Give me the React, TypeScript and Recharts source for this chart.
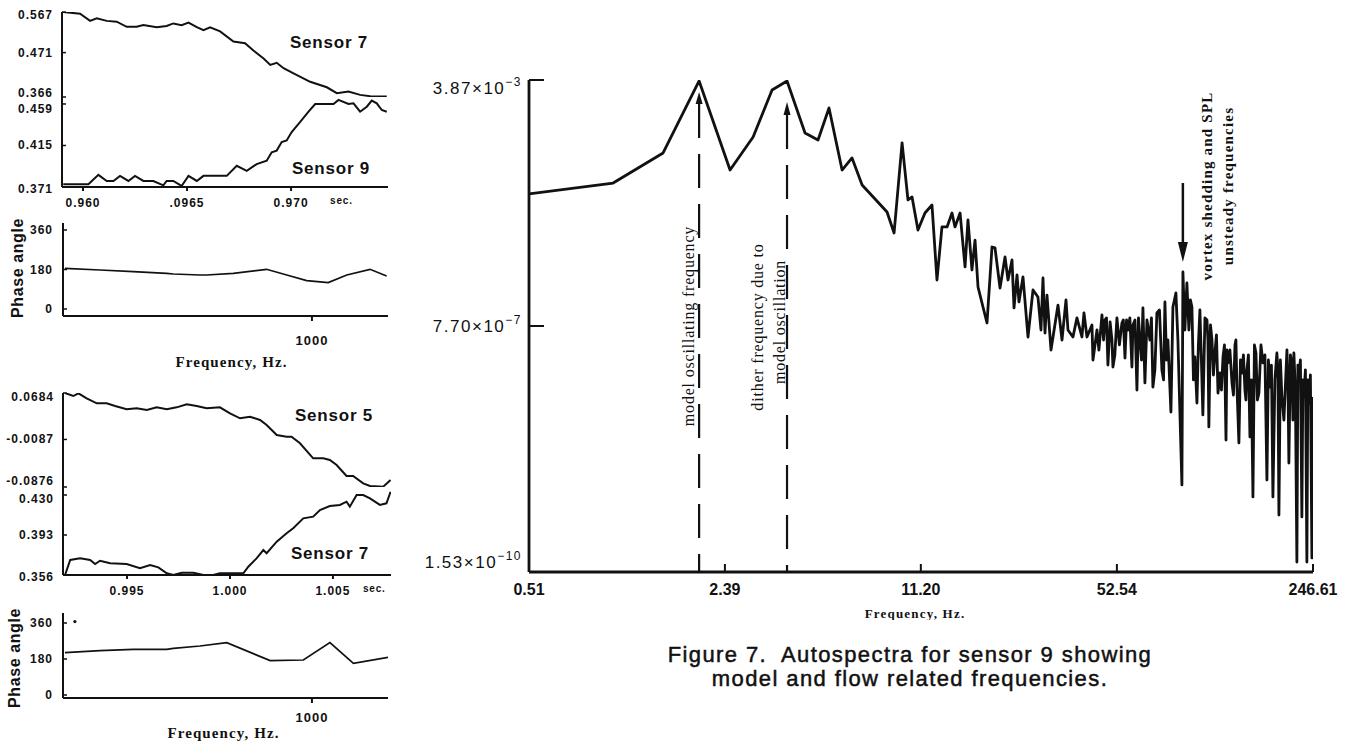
import React from 'react';
import { LineChart, Line, XAxis, YAxis, ReferenceLine, ReferenceDot } from 'recharts';

const SANS = '"Liberation Sans", Arial, Helvetica, sans-serif';
const SERIF = '"Liberation Serif", "Times New Roman", serif';
const INK = '#111';

// ---------------- Main autospectrum (sensor 9) ----------------
const SPEC_FREQ = [
  0.51, 0.99, 1.468, 1.95, 2.489, 2.985, 3.466, 3.9, 4.495, 4.98,
  5.43, 6.02, 6.51, 7.05, 8.58, 9.07, 9.66, 10.12, 10.45, 10.95,
  11.57, 12.23, 12.72, 13.23, 13.77, 14.32, 14.66, 15.26, 15.87, 16.24,
  16.76, 17.17, 17.58, 18.87, 19.63, 20.1, 20.91, 21.75, 22.27, 22.98,
  23.35, 23.91, 24.28, 25.06, 26.07, 27.12, 28.2, 28.88, 29.34, 29.81,
  30.28, 31.25, 33.03, 34.09, 35.18, 35.73, 37.16, 38.35, 39.89, 40.53,
  41.5, 43.17, 43.51, 44.91, 46.71, 47.82, 48.96, 50.53, 50.93, 52.56,
  54.67, 56.0, 57.33, 59.16, 59.63, 61.54, 63.01, 64.52, 65.54, 68.17,
  69.8, 72.03, 74.93, 76.74, 78.57, 80.45, 81.73, 83.68, 85.01, 87.74,
  88.43, 91.25, 92.7, 94.93, 97.2, 98.77, 101.1, 103.5, 106.9, 108.5,
  111.2, 113.8, 116.6, 118.4, 121.3, 124.2, 126.1, 130.2, 133.3, 135.4,
  137.5, 140.8, 144.2, 146.5, 150.0, 153.6, 157.3, 161.0, 166.2, 171.5,
  175.6, 179.8, 185.5, 188.5, 193.0, 200.8, 203.9, 208.8, 212.1, 217.2,
  220.6, 225.9, 229.5, 235.0, 238.8, 244.5, 246.6,
];
const SPEC_PSD = [
  7.46e-5, 1.09e-4, 3.09e-4, 3.74e-3, 1.71e-4, 5.38e-4, 2.74e-3, 3.74e-3, 6.17e-4, 4.84e-4,
  1.47e-3, 1.71e-4, 2.6e-4, 1.02e-4, 4.0e-5, 1.93e-5, 4.37e-4, 6.06e-5, 6.72e-5, 2.14e-5,
  3.86e-5, 5.09e-5, 3.79e-6, 2.38e-5, 2.38e-5, 3.86e-5, 2.38e-5, 3.86e-5, 5.95e-6, 3.03e-5,
  5.36e-6, 1.51e-5, 2.97e-6, 8.54e-7, 1.19e-5, 1.15e-5, 2.87e-6, 8.41e-6, 3.79e-6, 7.58e-6,
  1.44e-6, 4.51e-6, 1.77e-6, 4.21e-6, 5.26e-7, 2.68e-6, 2.1e-6, 6.7e-7, 4.06e-6, 6.04e-7,
  2.25e-6, 3.35e-7, 1.59e-6, 4.74e-7, 1.9e-6, 6.7e-7, 5.26e-7, 1.02e-6, 5.26e-7, 1.21e-6,
  5.26e-7, 7.97e-7, 2.37e-7, 6.7e-7, 1.13e-6, 9.48e-7, 1.99e-7, 4.74e-7, 1.86e-7, 1.02e-6,
  8.54e-7, 2.54e-7, 6.7e-7, 1.86e-7, 7.97e-7, 8.38e-8, 4.74e-7, 1.44e-6, 1.07e-7, 4.74e-7,
  9.3e-8, 1.21e-6, 1.68e-7, 1.77e-6, 4.74e-7, 3.91e-8, 1.49e-6, 2.42e-6, 4.74e-7, 3.12e-9,
  5.0e-6, 3.42e-6, 6.7e-7, 1.49e-6, 2.63e-7, 5.34e-8, 1.34e-6, 3.53e-8, 9.48e-7, 2.33e-8,
  4.74e-7, 3.02e-7, 7.55e-8, 1.51e-7, 2.63e-7, 1.48e-8, 2.14e-7, 1.07e-7, 3.99e-7, 9.3e-8,
  1.34e-8, 1.51e-7, 8.38e-8, 1.68e-7, 1.65e-8, 2.06e-9, 3.02e-7, 7.55e-8, 2.14e-7, 3.71e-9,
  9.3e-8, 2.06e-9, 3.02e-7, 1.1e-9, 6.58e-8, 3.35e-7, 6.68e-9, 2.14e-7, 3.02e-7, 2.16e-10,
  1.32e-7, 1.03e-9, 6.58e-8, 2.16e-10, 5.34e-8, 2.49e-10, 6.58e-8,
];
// finer wiggles read inside the dense high-frequency band
const BAND_FREQ = [
  45.6, 47.3, 48.4, 49.8, 51.7, 53.6, 55.3, 56.7, 58.2, 60.6,
  62.3, 63.8, 66.6, 69.0, 70.9, 73.5, 75.9, 77.7, 89.8, 93.8,
  96.1, 99.9, 102.3, 105.2, 107.7, 109.9, 112.5, 115.2, 119.8, 122.7,
  125.1, 128.1, 131.7, 134.3, 139.2, 142.5, 145.3, 148.2, 151.7, 155.4,
  159.1, 163.6, 168.8, 173.5, 177.7, 182.6, 187.0, 190.7, 196.1, 202.4,
  206.4, 210.5, 214.6, 218.9, 223.3, 227.7, 232.3, 236.8, 241.6,
];
const BAND_PSD = [
  3.35e-7, 4.74e-7, 1.02e-6, 8.84e-7, 2.82e-7, 3.99e-7, 9.48e-7, 9.48e-7, 1.02e-6, 9.48e-7,
  1.02e-6, 2.37e-7, 9.48e-7, 1.02e-6, 1.68e-7, 1.34e-6, 1.19e-7, 2.37e-7, 6.7e-7, 1.9e-6,
  1.19e-7, 3.99e-7, 2.37e-7, 1.02e-6, 4.74e-7, 7.97e-7, 1.41e-7, 5.64e-7, 8.38e-8, 3.99e-7,
  3.35e-7, 3.35e-7, 7.05e-8, 4.74e-7, 2.37e-7, 2.82e-7, 5.93e-8, 2.82e-7, 1.19e-7, 3.99e-7,
  5.93e-8, 3.99e-7, 2.82e-7, 2.37e-7, 1.99e-7, 1.19e-7, 1.68e-7, 2.37e-7, 2.96e-8, 1.19e-7,
  2.82e-7, 2.96e-8, 8.38e-8, 1.99e-7, 2.37e-7, 1.19e-7, 1.68e-7, 1.19e-7, 1.41e-7,
];
const MAIN_X_DOMAIN: [number, number] = [0.51, 246.61];
const MAIN_Y_DOMAIN: [number, number] = [1.53e-10, 3.87e-3];
const MAIN_X_TICKS = [0.51, 2.39, 11.2, 52.54, 246.61];
const MAIN_X_LABELS = ['0.51', '2.39', '11.20', '52.54', '246.61'];
const MAIN_X_INNER = [2.39, 11.2, 52.54];
const MAIN_Y_TICKS = [1.53e-10, 7.7e-7, 3.87e-3];
const MAIN_Y_MANT = ['1.53', '7.70', '3.87'];
const MAIN_Y_EXP = ['\u221210', '\u22127', '\u22123'];

const MODEL_FREQ = 1.95;
const DITHER_FREQ = 3.9;
const VORTEX_FREQ = 88.4;

// ---------------- Left panels ----------------
// Panel A: Sensor 7 (upper) & Sensor 9 (lower), time in sec
const A_X_DOMAIN: [number, number] = [0.95899, 0.97466];
const A_X_TICKS = [0.96, 0.965, 0.97];
const A_X_LABELS = ['0.960', '.0965', '0.970'];
const S7A_T = [0.95905, 0.95986, 0.96034, 0.96066, 0.96114, 0.96162, 0.9621, 0.96258, 0.9629, 0.96354, 0.96402, 0.96434, 0.96474, 0.96507, 0.96547, 0.96579, 0.96611, 0.96659, 0.96723, 0.96779, 0.96819, 0.96868, 0.969, 0.96931, 0.96964, 0.97012, 0.97092, 0.97172, 0.9722, 0.97276, 0.97332, 0.9738, 0.9746];
const S7A_V = [0.567, 0.563, 0.546, 0.552, 0.546, 0.544, 0.532, 0.532, 0.536, 0.531, 0.534, 0.54, 0.536, 0.542, 0.531, 0.524, 0.531, 0.521, 0.497, 0.493, 0.476, 0.457, 0.442, 0.447, 0.434, 0.422, 0.402, 0.389, 0.375, 0.379, 0.371, 0.368, 0.367];
const S7A_Y_DOMAIN: [number, number] = [0.366, 0.567];
const S7A_Y_TICKS = [0.366, 0.471, 0.567];
const S7A_Y_LABELS = ['0.366', '0.471', '0.567'];
const S9A_T = [0.95905, 0.96026, 0.96074, 0.96114, 0.96146, 0.96178, 0.96218, 0.9625, 0.9629, 0.96338, 0.96386, 0.96402, 0.96434, 0.96474, 0.96507, 0.96547, 0.96579, 0.96691, 0.96739, 0.96787, 0.96835, 0.96883, 0.96907, 0.96931, 0.96955, 0.96979, 0.97003, 0.97044, 0.97084, 0.97116, 0.97204, 0.97228, 0.97276, 0.973, 0.97332, 0.97364, 0.97388, 0.97412, 0.97436, 0.9746];
const S9A_V = [0.3739, 0.3739, 0.3839, 0.3774, 0.3774, 0.3828, 0.3774, 0.3828, 0.3774, 0.3774, 0.3728, 0.3774, 0.3774, 0.3721, 0.3828, 0.3774, 0.3828, 0.3828, 0.3935, 0.3882, 0.3953, 0.3989, 0.4078, 0.4096, 0.4186, 0.4204, 0.4293, 0.44, 0.4508, 0.459, 0.459, 0.4633, 0.459, 0.4597, 0.4508, 0.4561, 0.4626, 0.4597, 0.4526, 0.4508];
const S9A_Y_DOMAIN: [number, number] = [0.371, 0.4664];
const S9A_Y_TICKS = [0.371, 0.415, 0.459];
const S9A_Y_LABELS = ['0.371', '0.415', '0.459'];

// Panel B: phase angle vs frequency
const PHASE_X_DOMAIN: [number, number] = [100, 1275];
const PHASE_X_TICKS = [1000];
const PHASE_Y_TICKS = [0, 180, 360];
const PHASE_Y_LABELS = ['0', '180', '360'];
const PB_F = [107, 234, 354, 475, 499, 595, 619, 716, 836, 909, 981, 1059, 1126, 1210, 1270];
const PB_P = [185.5, 177.8, 170, 162.6, 159.5, 155, 155, 162.6, 180.9, 155, 129, 120, 155, 180.9, 150];
const PB_Y_DOMAIN: [number, number] = [-32, 392];

// Panel C: Sensor 5 (upper) & Sensor 7 (lower)
const C_X_DOMAIN: [number, number] = [0.99189, 1.00782];
const C_X_TICKS = [0.995, 1.0, 1.005];
const C_X_LABELS = ['0.995', '1.000', '1.005'];
const S5C_T = [0.99199, 0.99239, 0.99264, 0.99304, 0.99353, 0.99401, 0.99442, 0.99498, 0.99547, 0.99596, 0.99644, 0.99693, 0.99741, 0.9979, 0.99838, 0.99887, 0.99951, 1.0, 1.00049, 1.00097, 1.00146, 1.00178, 1.00227, 1.00275, 1.00299, 1.0034, 1.00404, 1.00453, 1.00485, 1.00518, 1.00566, 1.00598, 1.00647, 1.0068, 1.00744, 1.0078];
const S5C_V = [0.0684, 0.0634, 0.0679, 0.0596, 0.0513, 0.0513, 0.0468, 0.0413, 0.043, 0.0402, 0.0446, 0.0413, 0.0446, 0.0496, 0.0468, 0.043, 0.0446, 0.0347, 0.0264, 0.0291, 0.0236, 0.0153, -0.0013, -0.0041, -0.0041, -0.0151, -0.04, -0.04, -0.0428, -0.0511, -0.0694, -0.0694, -0.0815, -0.086, -0.0871, -0.076];
const S5C_Y_DOMAIN: [number, number] = [-0.0876, 0.0684];
const S5C_Y_TICKS = [-0.0876, -0.0087, 0.0684];
const S5C_Y_LABELS = ['-0.0876', '-0.0087', '0.0684'];
const S7C_T = [0.99199, 0.99224, 0.99272, 0.99321, 0.99345, 0.99369, 0.99418, 0.99498, 0.99563, 0.99612, 0.99652, 0.99693, 0.99725, 0.99766, 0.99822, 0.99871, 0.99919, 0.99951, 1.00065, 1.00089, 1.00129, 1.00162, 1.00178, 1.00227, 1.00275, 1.00307, 1.00356, 1.00404, 1.00437, 1.00485, 1.00534, 1.00566, 1.00582, 1.00615, 1.00647, 1.0068, 1.00728, 1.0076, 1.0078];
const S7C_V = [0.356, 0.3699, 0.3714, 0.3699, 0.3662, 0.3692, 0.3668, 0.3662, 0.3622, 0.3653, 0.3631, 0.3576, 0.356, 0.3581, 0.3581, 0.356, 0.356, 0.3576, 0.3576, 0.3637, 0.3714, 0.3791, 0.3761, 0.3868, 0.3946, 0.3992, 0.4084, 0.41, 0.4161, 0.4198, 0.4208, 0.4238, 0.4192, 0.43, 0.43, 0.4269, 0.4208, 0.4223, 0.433];
const S7C_Y_DOMAIN: [number, number] = [0.356, 0.4374];
const S7C_Y_TICKS = [0.356, 0.393, 0.43];
const S7C_Y_LABELS = ['0.356', '0.393', '0.430'];

// Panel D: phase angle vs frequency
const PD_F = [107, 234, 354, 475, 499, 595, 692, 849, 969, 1065, 1150, 1275];
const PD_P = [211.7, 221.7, 228.3, 228.3, 233.3, 245, 261.7, 171.7, 175, 261.7, 158.3, 188.3];
const PD_Y_DOMAIN: [number, number] = [-15, 410];
const PD_OUTLIER_F = 143;
const PD_OUTLIER_P = 367;

// ---------------- helpers ----------------
const zip = (xs: number[], ys: number[], kx: string, ky: string) =>
  xs.map((x, i) => ({ [kx]: x, [ky]: ys[i] }));

function nearestIdx(ticks: number[], v: number, log = false) {
  let best = 0;
  const d = (a: number) => (log ? Math.abs(Math.log(a) - Math.log(v)) : Math.abs(a - v));
  for (let i = 1; i < ticks.length; i++) if (d(ticks[i]) < d(ticks[best])) best = i;
  return best;
}

const smallFont = { fontFamily: SANS, fontWeight: 700, fill: INK } as const;

const ySmallTick = (ticks: number[], labels: string[], shifts: number[] = []) => (p: any) => {
  const i = nearestIdx(ticks, p.payload.value);
  return (
    <text x={p.x} y={p.y + (shifts[i] || 0)} dy={4} textAnchor="end" fontSize={12} letterSpacing={1} {...smallFont}>
      {labels[i]}
    </text>
  );
};

const xSmallTick = (ticks: number[], labels: string[], unitDx?: number, fs = 12) => (p: any) => {
  const i = nearestIdx(ticks, p.payload.value);
  return (
    <g>
      <text x={p.x} y={p.y} dy={9} textAnchor="middle" fontSize={fs} letterSpacing={1} {...smallFont}>
        {labels[i]}
      </text>
      {unitDx !== undefined && i === ticks.length - 1 ? (
        <text x={p.x + unitDx} y={p.y} dy={6} textAnchor="start" fontSize={10} letterSpacing={0.8} {...smallFont}>
          sec.
        </text>
      ) : null}
    </g>
  );
};

type PartProps = {
  top: number;
  height: number;
  margin: { top: number; right: number; bottom: number; left: number };
  data: any[];
  xd: [number, number];
  xt: number[];
  yd: [number, number];
  yt: number[];
  yl: string[];
  ys: number[];
  yWidth: number;
  lower: boolean;
  xl?: string[];
  unitDx?: number;
  bottomHeight?: number;
  tickMargin?: number;
};

function TimePart(props: PartProps) {
  const { top, height, margin, data, xd, xt, yd, yt, yl, ys, yWidth, lower, xl, unitDx, bottomHeight, tickMargin } = props;
  return (
    <div style={{ position: 'absolute', left: 0, top }}>
      <LineChart width={400} height={height} data={data} margin={margin}>
        <XAxis
          dataKey="t"
          type="number"
          domain={xd}
          allowDataOverflow
          ticks={xt}
          interval={0}
          height={lower ? bottomHeight : 0}
          tickSize={lower ? 4 : -5}
          tickMargin={lower ? tickMargin : 0}
          tick={lower ? xSmallTick(xt, xl || [], unitDx) : false}
          axisLine={{ stroke: INK, strokeWidth: lower ? 2 : 3 }}
          tickLine={{ stroke: INK, strokeWidth: 2 }}
        />
        <XAxis
          xAxisId="top"
          orientation="top"
          type="number"
          domain={xd}
          allowDataOverflow
          ticks={xt}
          interval={0}
          height={0}
          tickSize={-5}
          tick={false}
          tickLine={lower ? { stroke: INK, strokeWidth: 2 } : false}
          axisLine={{ stroke: INK, strokeWidth: lower ? 3 : 2 }}
        />
        <YAxis
          type="number"
          domain={yd}
          allowDataOverflow
          ticks={yt}
          interval={0}
          width={yWidth}
          tickSize={-4}
          tickMargin={13}
          tick={ySmallTick(yt, yl, ys)}
          axisLine={{ stroke: INK, strokeWidth: 2 }}
          tickLine={{ stroke: INK, strokeWidth: 1.5 }}
        />
        <YAxis
          yAxisId="r"
          orientation="right"
          type="number"
          domain={[0, 1]}
          width={0}
          tick={false}
          tickLine={false}
          axisLine={{ stroke: INK, strokeWidth: 2 }}
        />
        <Line type="linear" dataKey="v" stroke={INK} strokeWidth={2} dot={false} isAnimationActive={false} />
      </LineChart>
    </div>
  );
}

type PhaseProps = {
  top: number;
  height: number;
  bottomHeight: number;
  data: any[];
  yd: [number, number];
  tickMargin: number;
  labelOffset: number;
  labelDx: number;
  outlier?: { f: number; p: number };
};

function PhasePart(props: PhaseProps) {
  const { top, height, bottomHeight, data, yd, tickMargin, labelOffset, labelDx, outlier } = props;
  return (
    <div style={{ position: 'absolute', left: 0, top }}>
      <LineChart width={400} height={height} data={data} margin={{ top: 23, right: 12, bottom: 0, left: 0 }}>
        <XAxis
          dataKey="f"
          type="number"
          domain={PHASE_X_DOMAIN}
          allowDataOverflow
          ticks={PHASE_X_TICKS}
          interval={0}
          height={bottomHeight}
          tickSize={5}
          tickMargin={tickMargin}
          tick={xSmallTick(PHASE_X_TICKS, ['1000'], undefined, 13)}
          axisLine={{ stroke: INK, strokeWidth: 2 }}
          tickLine={{ stroke: INK, strokeWidth: 2 }}
          label={{
            value: 'Frequency, Hz.',
            position: 'insideBottom',
            offset: labelOffset,
            dx: labelDx,
            fontFamily: SERIF,
            fontWeight: 700,
            fontSize: 15,
            letterSpacing: 1.1,
            fill: INK,
          }}
        />
        <XAxis xAxisId="top" orientation="top" type="number" domain={[0, 1]} height={0} tick={false} tickLine={false} axisLine={{ stroke: INK, strokeWidth: 2 }} />
        <YAxis
          type="number"
          domain={yd}
          allowDataOverflow
          ticks={PHASE_Y_TICKS}
          interval={0}
          width={63}
          tickSize={-4}
          tickMargin={14}
          tick={ySmallTick(PHASE_Y_TICKS, PHASE_Y_LABELS)}
          axisLine={{ stroke: INK, strokeWidth: 2 }}
          tickLine={{ stroke: INK, strokeWidth: 1.5 }}
        />
        <YAxis yAxisId="r" orientation="right" type="number" domain={[0, 1]} width={0} tick={false} tickLine={false} axisLine={{ stroke: INK, strokeWidth: 2 }} />
        <Line type="linear" dataKey="p" stroke={INK} strokeWidth={1.7} dot={false} isAnimationActive={false} />
        {outlier ? <ReferenceDot x={outlier.f} y={outlier.p} r={1.6} fill={INK} stroke="none" ifOverflow="visible" /> : null}
      </LineChart>
    </div>
  );
}

// ---------------- main chart pieces ----------------
const mainXTick = (p: any) => {
  const i = nearestIdx(MAIN_X_TICKS, p.payload.value, true);
  return (
    <text x={p.x} y={p.y} dy={12} textAnchor="middle" fontFamily={SANS} fontWeight={700} fontSize={16} fill={INK}>
      {MAIN_X_LABELS[i]}
    </text>
  );
};

const mainYTick = (p: any) => {
  const i = nearestIdx(MAIN_Y_TICKS, p.payload.value, true);
  const shift = i === 2 ? 8 : i === 0 ? -10 : 0;
  return (
    <text x={p.x} y={p.y + shift} dy={6} textAnchor="end" fontFamily={SANS} fontSize={17} letterSpacing={1.5} fill={INK}>
      {MAIN_Y_MANT[i]}
      {'\u00D7'}10
      <tspan dy={-8} fontSize={12}>
        {MAIN_Y_EXP[i]}
      </tspan>
    </text>
  );
};

const vText = (text: string, font: Record<string, any>) => (p: any) => (
  <text
    x={p.cx}
    y={p.cy}
    transform={`rotate(-90 ${p.cx} ${p.cy})`}
    textAnchor="middle"
    dominantBaseline="central"
    fill={INK}
    {...font}
  >
    {text}
  </text>
);

const arrowUp = (w: number, h: number) => (p: any) => (
  <path d={`M${p.cx},${p.cy} L${p.cx - w / 2},${p.cy + h} L${p.cx + w / 2},${p.cy + h} Z`} fill={INK} />
);
const arrowDown = (w: number, h: number) => (p: any) => (
  <path d={`M${p.cx},${p.cy} L${p.cx - w / 2},${p.cy - h} L${p.cx + w / 2},${p.cy - h} Z`} fill={INK} />
);

const annSerif = { fontFamily: SERIF, fontSize: 16, letterSpacing: 0.8 };
const annBold = { fontFamily: SERIF, fontSize: 15, fontWeight: 700, letterSpacing: 1.2 };

function MainChart() {
  const data = [...zip(SPEC_FREQ, SPEC_PSD, 'f', 'psd'), ...zip(BAND_FREQ, BAND_PSD, 'f', 'psd')].sort(
    (a: any, b: any) => a.f - b.f,
  );
  const axisLine = { stroke: INK, strokeWidth: 2.8 };
  const tickLine = { stroke: INK, strokeWidth: 2 };
  return (
    <div style={{ position: 'absolute', left: 420, top: 40 }}>
      <LineChart width={920} height={580} data={data} margin={{ top: 40, right: 27, bottom: 18, left: 0 }}>
        <XAxis
          dataKey="f"
          type="number"
          scale="log"
          domain={MAIN_X_DOMAIN}
          allowDataOverflow
          ticks={MAIN_X_TICKS}
          interval={0}
          height={30}
          tickSize={-8}
          tickMargin={19}
          tick={mainXTick}
          axisLine={axisLine}
          tickLine={tickLine}
          label={{
            value: 'Frequency, Hz.',
            position: 'bottom',
            offset: 7,
            dx: -6,
            fontFamily: SERIF,
            fontWeight: 700,
            fontSize: 13,
            letterSpacing: 1.2,
            fill: INK,
          }}
        />
        <XAxis
          xAxisId="top"
          orientation="top"
          type="number"
          scale="log"
          domain={MAIN_X_DOMAIN}
          allowDataOverflow
          ticks={MAIN_X_INNER}
          interval={0}
          height={0}
          tickSize={-8}
          tick={false}
          axisLine={axisLine}
          tickLine={tickLine}
          label={{ value: 'Sensor 9', position: 'top', offset: 3, dx: -7, fontFamily: SANS, fontSize: 16, fill: INK }}
        />
        <YAxis
          type="number"
          scale="log"
          domain={MAIN_Y_DOMAIN}
          allowDataOverflow
          ticks={MAIN_Y_TICKS}
          interval={0}
          width={109}
          tickSize={-15}
          tickMargin={22}
          tick={mainYTick}
          axisLine={axisLine}
          tickLine={tickLine}
        />
        <YAxis
          yAxisId="right"
          orientation="right"
          type="number"
          scale="log"
          domain={MAIN_Y_DOMAIN}
          allowDataOverflow
          ticks={MAIN_Y_TICKS}
          interval={0}
          width={0}
          tickSize={-15}
          tick={false}
          axisLine={axisLine}
          tickLine={tickLine}
        />
        <ReferenceLine
          segment={[{ x: MODEL_FREQ, y: 1.69e-3 }, { x: MODEL_FREQ, y: 1.53e-10 }]}
          stroke={INK}
          strokeWidth={2.2}
          strokeDasharray="34 16"
          ifOverflow="visible"
        />
        <ReferenceLine
          segment={[{ x: DITHER_FREQ, y: 1.15e-3 }, { x: DITHER_FREQ, y: 1.53e-10 }]}
          stroke={INK}
          strokeWidth={2.2}
          strokeDasharray="34 16"
          ifOverflow="visible"
        />
        <ReferenceLine
          segment={[{ x: VORTEX_FREQ, y: 1.09e-4 }, { x: VORTEX_FREQ, y: 1.41e-5 }]}
          stroke={INK}
          strokeWidth={2.5}
          ifOverflow="visible"
        />
        <ReferenceDot x={MODEL_FREQ} y={2.55e-3} r={3} ifOverflow="visible" shape={arrowUp(7, 12)} />
        <ReferenceDot x={DITHER_FREQ} y={1.81e-3} r={3} ifOverflow="visible" shape={arrowUp(7, 13)} />
        <ReferenceDot x={VORTEX_FREQ} y={7.07e-6} r={3} ifOverflow="visible" shape={arrowDown(10, 20)} />
        <ReferenceDot x={1.79} y={7.69e-7} r={1} ifOverflow="visible" shape={vText('model oscillating frequency', annSerif)} />
        <ReferenceDot x={3.08} y={7.43e-7} r={1} ifOverflow="visible" shape={vText('dither frequency due to', annSerif)} />
        <ReferenceDot x={3.69} y={8.85e-7} r={1} ifOverflow="visible" shape={vText('model oscillation', annSerif)} />
        <ReferenceDot x={106.9} y={9.84e-5} r={1} ifOverflow="visible" shape={vText('vortex shedding and SPL', annBold)} />
        <ReferenceDot x={126.1} y={9.84e-5} r={1} ifOverflow="visible" shape={vText('unsteady frequencies', annBold)} />
        <Line
          type="linear"
          dataKey="psd"
          stroke={INK}
          strokeWidth={2.8}
          strokeLinejoin="round"
          dot={false}
          isAnimationActive={false}
        />
      </LineChart>
    </div>
  );
}

function Overlay() {
  const sensorFont = { fontFamily: SANS, fontWeight: 700, fontSize: 17, letterSpacing: 0.8, fill: INK } as const;
  const phaseFont = { fontFamily: SANS, fontWeight: 700, fontSize: 16, letterSpacing: 0.6, fill: INK } as const;
  const capFont = { fontFamily: SANS, fontSize: 22, letterSpacing: 1.4, fill: INK, stroke: INK, strokeWidth: 0.5 } as const;
  return (
    <svg width={1347} height={744} style={{ position: 'absolute', left: 0, top: 0, pointerEvents: 'none' }}>
      <text x={329} y={42} textAnchor="middle" dominantBaseline="central" {...sensorFont}>Sensor 7</text>
      <text x={331} y={168} textAnchor="middle" dominantBaseline="central" {...sensorFont}>Sensor 9</text>
      <text x={334} y={415} textAnchor="middle" dominantBaseline="central" {...sensorFont}>Sensor 5</text>
      <text x={330} y={553} textAnchor="middle" dominantBaseline="central" {...sensorFont}>Sensor 7</text>
      <text x={17} y={268} transform="rotate(-90 17 268)" textAnchor="middle" dominantBaseline="central" {...phaseFont}>Phase angle</text>
      <text x={14} y={658} transform="rotate(-90 14 658)" textAnchor="middle" dominantBaseline="central" {...phaseFont}>Phase angle</text>
      <text x={910} y={662} textAnchor="middle" style={{ whiteSpace: 'pre' }} {...capFont}>Figure 7.  Autospectra for sensor 9 showing</text>
      <text x={910} y={686} textAnchor="middle" {...capFont}>model and flow related frequencies.</text>
    </svg>
  );
}

export default function App() {
  return (
    <div style={{ position: 'absolute', left: 0, top: 0, width: 1347, height: 744, background: '#fff', overflow: 'hidden' }}>
      <TimePart
        top={0}
        height={108}
        margin={{ top: 12, right: 12, bottom: 11, left: 0 }}
        data={zip(S7A_T, S7A_V, 't', 'v')}
        xd={A_X_DOMAIN}
        xt={A_X_TICKS}
        yd={S7A_Y_DOMAIN}
        yt={S7A_Y_TICKS}
        yl={S7A_Y_LABELS}
        ys={[-4, 0, 3]}
        yWidth={62}
        lower={false}
      />
      <TimePart
        top={97}
        height={125}
        margin={{ top: 0, right: 12, bottom: 0, left: 0 }}
        data={zip(S9A_T, S9A_V, 't', 'v')}
        xd={A_X_DOMAIN}
        xt={A_X_TICKS}
        yd={S9A_Y_DOMAIN}
        yt={S9A_Y_TICKS}
        yl={S9A_Y_LABELS}
        ys={[2, 0, 5]}
        yWidth={62}
        lower={true}
        xl={A_X_LABELS}
        unitDx={39}
        bottomHeight={35}
        tickMargin={7}
      />
      <PhasePart
        top={200}
        height={180}
        bottomHeight={64}
        data={zip(PB_F, PB_P, 'f', 'p')}
        yd={PB_Y_DOMAIN}
        tickMargin={15}
        labelOffset={13}
        labelDx={6}
      />
      <TimePart
        top={370}
        height={128}
        margin={{ top: 23, right: 9, bottom: 11, left: 0 }}
        data={zip(S5C_T, S5C_V, 't', 'v')}
        xd={C_X_DOMAIN}
        xt={C_X_TICKS}
        yd={S5C_Y_DOMAIN}
        yt={S5C_Y_TICKS}
        yl={S5C_Y_LABELS}
        ys={[-6, 0, 4]}
        yWidth={63}
        lower={false}
      />
      <TimePart
        top={487}
        height={130}
        margin={{ top: 0, right: 9, bottom: 0, left: 0 }}
        data={zip(S7C_T, S7C_V, 't', 'v')}
        xd={C_X_DOMAIN}
        xt={C_X_TICKS}
        yd={S7C_Y_DOMAIN}
        yt={S7C_Y_TICKS}
        yl={S7C_Y_LABELS}
        ys={[2, 0, 4]}
        yWidth={63}
        lower={true}
        xl={C_X_LABELS}
        unitDx={30}
        bottomHeight={42}
        tickMargin={7}
      />
      <PhasePart
        top={590}
        height={154}
        bottomHeight={46}
        data={zip(PD_F, PD_P, 'f', 'p')}
        yd={PD_Y_DOMAIN}
        tickMargin={10}
        labelOffset={6}
        labelDx={-2}
        outlier={{ f: PD_OUTLIER_F, p: PD_OUTLIER_P }}
      />
      <MainChart />
      <Overlay />
    </div>
  );
}
